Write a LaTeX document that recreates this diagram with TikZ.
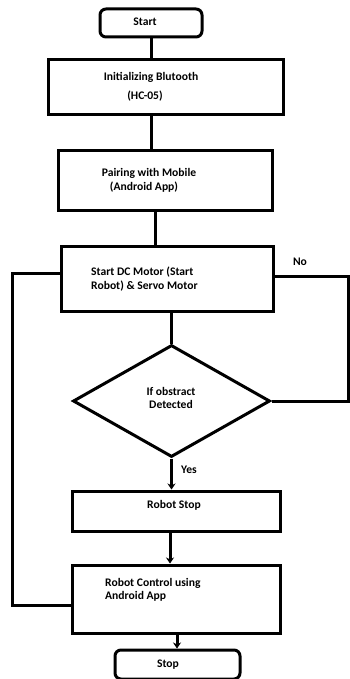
\documentclass[tikz,border=0pt]{standalone}
\usepackage{fontspec}
\setmainfont{Carlito}
\usetikzlibrary{shapes.geometric,arrows.meta}
\begin{document}
\begin{tikzpicture}[x=1pt,y=-1pt,
  every node/.style={font=\bfseries\fontsize{11.6}{13.5}\selectfont, inner sep=0pt},
  box/.style={draw, line width=3pt, rectangle},
  term/.style={draw, line width=3pt, rectangle, rounded corners=6pt},
  dec/.style={draw, line width=3pt, diamond},
  conn/.style={line width=3pt},
  arr/.style={line width=3pt, -{Stealth[length=6pt,width=8pt]}}]
\useasboundingbox (0,0) rectangle (350,679);
% shapes
\node[term, minimum width=102pt, minimum height=28pt] (s) at (151,23) {};
\node[box, minimum width=235pt, minimum height=55pt] (b1) at (165.5,87.5) {};
\node[box, minimum width=214pt, minimum height=59pt] (b2) at (165,180.5) {};
\node[box, minimum width=212pt, minimum height=65pt] (b3) at (167,278.5) {};
\node[dec, minimum width=197pt, minimum height=112pt] (d) at (171.5,401) {};
\node[box, minimum width=208pt, minimum height=40pt] (b4) at (176,511) {};
\node[box, minimum width=208pt, minimum height=68pt] (b5) at (176,599) {};
\node[term, minimum width=125pt, minimum height=29pt] (e) at (177.5,664.5) {};
% texts
\node (ts) at (145,22) {Start};
\node (t1a) at (151,77) {Initializing Blutooth};
\node (t1b) at (145,96) {(HC-05)};
\node (t2a) at (149,173) {Pairing with Mobile};
\node (t2b) at (144,187) {(Android App)};
\node[anchor=west, align=left] (t3) at (91,279) {Start DC Motor (Start\\Robot) \& Servo Motor};
\node[align=center] (td) at (171,398) {If obstract\\Detected};
\node (tno) at (300,262) {No};
\node (tyes) at (189,470) {Yes};
\node (t4) at (174,505) {Robot Stop};
\node[anchor=west, align=left] (t5) at (105,590) {Robot Control using\\Android App};
\node (te) at (168,665) {Stop};
% helper coordinates
\coordinate (x1) at (151,0);
\coordinate (x2) at (155,0);
\coordinate (x3) at (171.5,0);
\coordinate (x4) at (170,0);
\coordinate (x5) at (177,0);
\coordinate (fb) at (12,605);
\coordinate (fbt) at (12,273);
\coordinate (nr) at (348.5,276);
% connectors
\draw[conn] (s.south -| x1) -- (b1.north -| x1);
\draw[conn] (b1.south -| x1) -- (b2.north -| x1);
\draw[conn] (b2.south -| x2) -- (b3.north -| x2);
\draw[conn] (b3.south -| x3) -- (d.north);
\draw[arr] (d.south) -- (b4.north -| x3);
\draw[arr] (b4.south -| x4) -- (b5.north -| x4);
\draw[arr] (b5.south -| x5) -- (e.north -| x5);
\draw[conn] (b3.east |- nr) -- (nr) -- (nr |- d.east) -- (d.east);
\draw[conn] (b5.west |- fb) -- (fb) -- (fbt) -- (b3.west |- fbt);
\end{tikzpicture}
\end{document}
